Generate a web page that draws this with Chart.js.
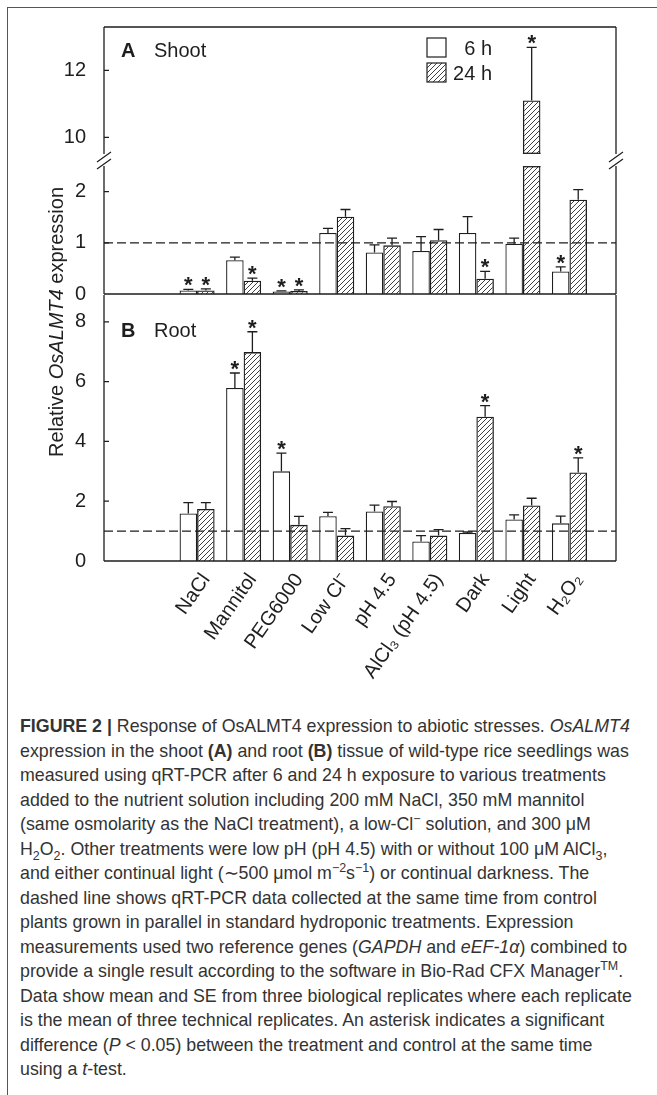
<!DOCTYPE html>
<html>
<head>
<meta charset="utf-8">
<script src="https://cdn.jsdelivr.net/npm/chart.js@4.4.1/dist/chart.umd.min.js"></script>
<style>
  body { margin: 0; background: #fff; width: 657px; height: 1095px; overflow: hidden; position: relative;
         font-family: "Liberation Sans", Arial, sans-serif; }
  canvas { position: absolute; left: 0; top: 0; }
  #frame { position: absolute; left: 7px; top: 7px; width: 700px; height: 1200px;
           border-left: 1.5px solid #555; border-top: 1.5px solid #555; }
  #ytitle { position: absolute; left: -94px; top: 310px; width: 300px; height: 24px; line-height: 24px;
            text-align: center; font-size: 20px; color: #222; transform: rotate(-90deg); white-space: nowrap; }
  #caption { position: absolute; left: 20px; top: 714px; font-size: 17.8px; line-height: 24.5px; color: #333; }
  #caption div { white-space: nowrap; }
  sub, sup { font-size: 70%; line-height: 0; }
</style>
</head>
<body>
<div id="frame"></div>
<canvas id="shootTop" width="657" height="700"></canvas>
<canvas id="shootBottom" width="657" height="700"></canvas>
<canvas id="root" width="657" height="700"></canvas>
<div id="ytitle">Relative <i>OsALMT4</i> expression</div>
<div id="caption">
  <div><b>FIGURE 2 |</b> Response of OsALMT4 expression to abiotic stresses. <i>OsALMT4</i></div>
  <div>expression in the shoot <b>(A)</b> and root <b>(B)</b> tissue of wild-type rice seedlings was</div>
  <div>measured using qRT-PCR after 6 and 24 h exposure to various treatments</div>
  <div>added to the nutrient solution including 200 mM NaCl, 350 mM mannitol</div>
  <div>(same osmolarity as the NaCl treatment), a low-Cl<sup>−</sup> solution, and 300 μM</div>
  <div>H<sub>2</sub>O<sub>2</sub>. Other treatments were low pH (pH 4.5) with or without 100 μM AlCl<sub>3</sub>,</div>
  <div>and either continual light (∼500 μmol m<sup>−2</sup>s<sup>−1</sup>) or continual darkness. The</div>
  <div>dashed line shows qRT-PCR data collected at the same time from control</div>
  <div>plants grown in parallel in standard hydroponic treatments. Expression</div>
  <div>measurements used two reference genes (<i>GAPDH</i> and <i>eEF-1α</i>) combined to</div>
  <div>provide a single result according to the software in Bio-Rad CFX Manager<sup>TM</sup>.</div>
  <div>Data show mean and SE from three biological replicates where each replicate</div>
  <div>is the mean of three technical replicates. An asterisk indicates a significant</div>
  <div>difference (<i>P</i> &lt; 0.05) between the treatment and control at the same time</div>
  <div>using a <i>t</i>-test.</div>
</div>
<script>
const treatments = ['NaCl', 'Mannitol', 'PEG6000', 'Low Cl⁻', 'pH 4.5', 'AlCl₃ (pH 4.5)', 'Dark', 'Light', 'H₂O₂'];

// shoot (panel A)
const shoot6h     = [0.07, 0.66, 0.05, 1.19, 0.81, 0.84, 1.19, 0.98, 0.44];
const shoot6hSE   = [0.02, 0.06, 0.01, 0.09, 0.15, 0.28, 0.32, 0.11, 0.09];
const shoot6hSig  = [1, 0, 1, 0, 0, 0, 0, 0, 1];
const shoot24h    = [0.07, 0.26, 0.06, 1.51, 0.95, 1.05, 0.30, 11.1, 1.84];
const shoot24hSE  = [0.03, 0.05, 0.02, 0.14, 0.14, 0.21, 0.14, 1.59, 0.20];
const shoot24hSig = [1, 1, 1, 0, 0, 0, 1, 1, 0];

// root (panel B)
const root6h     = [1.59, 5.79, 3.00, 1.50, 1.66, 0.65, 0.94, 1.39, 1.26];
const root6hSE   = [0.36, 0.50, 0.61, 0.13, 0.21, 0.20, 0.03, 0.15, 0.24];
const root6hSig  = [0, 1, 1, 0, 0, 0, 0, 0, 0];
const root24h    = [1.74, 6.99, 1.21, 0.85, 1.83, 0.85, 4.83, 1.86, 2.96];
const root24hSE  = [0.21, 0.68, 0.28, 0.23, 0.16, 0.20, 0.37, 0.24, 0.49];
const root24hSig = [0, 1, 0, 0, 0, 0, 1, 0, 1];

const controlLevel = 1;
const shootTopTicks = [10, 12];
const shootBottomTicks = [0, 1, 2];
const rootTicks = [0, 2, 4, 6, 8];

// two empty slots before the treatments and one after
const pad = arr => [null, null, ...arr, null];
const labels = pad(treatments).map(v => v || '');

const INK = '#1e1e1e';
const FONT = '"Liberation Sans", Arial, sans-serif';

function hatchPattern() {
  const c = document.createElement('canvas');
  c.width = 5; c.height = 5;
  const g = c.getContext('2d');
  g.strokeStyle = '#2a2a2a';
  g.lineWidth = 0.9;
  g.beginPath();
  g.moveTo(-1, 6); g.lineTo(6, -1);
  g.moveTo(-1, 1); g.lineTo(1, -1);
  g.moveTo(4, 6); g.lineTo(6, 4);
  g.stroke();
  return g.createPattern(c, 'repeat');
}
const hatch = hatchPattern();

const deco = {
  id: 'deco',
  afterDatasetsDraw(chart, args, o) {
    const { ctx, chartArea: a } = chart;
    const y = chart.scales.y;
    ctx.save();
    ctx.beginPath();
    ctx.rect(a.left, a.top, a.right - a.left, a.bottom - a.top);
    ctx.clip();
    ctx.strokeStyle = INK;
    ctx.fillStyle = INK;

    // clipped bar edges
    chart.data.datasets.forEach((ds, di) => {
      chart.getDatasetMeta(di).data.forEach((el, i) => {
        const v = ds.data[i];
        if (v == null) return;
        const { x, width } = el.getProps(['x', 'width'], true);
        ctx.lineWidth = 1.3;
        ctx.beginPath();
        if (v > y.max) { ctx.moveTo(x - width / 2, a.top + 0.7); ctx.lineTo(x + width / 2, a.top + 0.7); }
        if (y.min > 0 && v > y.min) { ctx.moveTo(x - width / 2, a.bottom - 0.7); ctx.lineTo(x + width / 2, a.bottom - 0.7); }
        ctx.stroke();
      });
    });

    // control level
    ctx.lineWidth = 1.2;
    ctx.setLineDash([9, 4]);
    const yc = y.getPixelForValue(controlLevel);
    ctx.beginPath(); ctx.moveTo(a.left, yc); ctx.lineTo(a.right, yc); ctx.stroke();
    ctx.setLineDash([]);

    // SE whiskers and asterisks (errors / sig are padded like the data)
    o.errors.forEach((se, di) => {
      const ds = chart.data.datasets[di];
      const sig = o.sig[di];
      chart.getDatasetMeta(di).data.forEach((el, i) => {
        const v = ds.data[i];
        if (v == null) return;
        const x = el.getProps(['x'], true).x;
        const y0 = y.getPixelForValue(v);
        const y1 = y.getPixelForValue(v + se[i]);
        ctx.lineWidth = 1.3;
        ctx.beginPath();
        ctx.moveTo(x, y0); ctx.lineTo(x, y1);
        ctx.moveTo(x - 5, y1); ctx.lineTo(x + 5, y1);
        ctx.stroke();
        if (sig[i]) {
          ctx.font = 'bold 22px ' + FONT;
          ctx.textAlign = 'center';
          ctx.textBaseline = 'alphabetic';
          ctx.fillText('*', x, y1 + 3);
        }
      });
    });
    ctx.restore();

    // frame
    ctx.save();
    ctx.strokeStyle = INK;
    ctx.lineWidth = 1.3;
    ctx.beginPath();
    const s = o.sides;
    if (s.top) { ctx.moveTo(a.left, a.top); ctx.lineTo(a.right, a.top); }
    if (s.bottom) { ctx.moveTo(a.left, a.bottom); ctx.lineTo(a.right, a.bottom); }
    if (s.left) { ctx.moveTo(a.left, a.top); ctx.lineTo(a.left, a.bottom); }
    if (s.right) { ctx.moveTo(a.right, a.top); ctx.lineTo(a.right, a.bottom); }
    // inward ticks
    y.ticks.forEach(t => {
      const py = y.getPixelForValue(t.value);
      ctx.moveTo(a.left, py); ctx.lineTo(a.left + 5, py);
    });
    ctx.stroke();
    // axis break marks
    if (o.breakAt) {
      const by = o.breakAt === 'bottom' ? a.bottom + 3 : a.top - 2;
      ctx.lineWidth = 1.2;
      ctx.beginPath();
      [a.left, a.right].forEach(bx => { ctx.moveTo(bx - 7, by + 5); ctx.lineTo(bx + 7, by - 5); });
      ctx.stroke();
    }
    // panel label
    if (o.panel) {
      ctx.fillStyle = INK;
      ctx.textAlign = 'left';
      ctx.textBaseline = 'alphabetic';
      ctx.font = 'bold 20px ' + FONT;
      ctx.fillText(o.panel[0], a.left + 17, a.top + o.panel[2]);
      ctx.font = '20px ' + FONT;
      ctx.fillText(o.panel[1], a.left + 50, a.top + o.panel[2]);
    }
    // legend
    if (o.legend) {
      const items = [['6 h', '#fff', 38], ['24 h', hatch, 63]];
      items.forEach(([txt, fill, ty]) => {
        ctx.fillStyle = fill;
        ctx.fillRect(427, ty, 19, 19);
        ctx.lineWidth = 1.2;
        ctx.strokeRect(427, ty, 19, 19);
        ctx.fillStyle = INK;
        ctx.font = '20px ' + FONT;
        ctx.textAlign = 'right';
        ctx.fillText(txt, 492, ty + 17);
      });
    }
    ctx.restore();
  }
};

function makeChart(id, cfg) {
  return new Chart(document.getElementById(id), {
    type: 'bar',
    data: {
      labels: labels,
      datasets: [
        { label: '6 h', data: pad(cfg.v6), backgroundColor: '#fff', borderColor: INK, borderWidth: 1.3, clip: 0 },
        { label: '24 h', data: pad(cfg.v24), backgroundColor: hatch, borderColor: INK, borderWidth: 1.3, clip: 0 }
      ]
    },
    options: {
      responsive: false,
      animation: false,
      datasets: { bar: { categoryPercentage: 0.753, barPercentage: 1.0 } },
      layout: { padding: cfg.padding },
      plugins: {
        legend: { display: false },
        tooltip: { enabled: false },
        deco: Object.assign({}, cfg.deco, {
          errors: [pad(cfg.se6), pad(cfg.se24)],
          sig: [pad(cfg.sig6), pad(cfg.sig24)]
        })
      },
      scales: {
        x: {
          type: 'category',
          offset: false,
          display: cfg.showX,
          grid: { display: false },
          border: { display: false },
          ticks: {
            autoSkip: false, minRotation: 55, maxRotation: 55, padding: 0, labelOffset: 9,
            color: INK, font: { family: FONT, size: 20 }
          },
          afterFit: s => { if (cfg.xHeight) s.height = cfg.xHeight; }
        },
        y: {
          min: cfg.min, max: cfg.max,
          grid: { display: false },
          border: { display: false },
          ticks: { padding: 10, color: INK, font: { family: FONT, size: 20 } },
          afterBuildTicks: s => { s.ticks = cfg.ticks.map(v => ({ value: v })); },
          afterFit: s => { s.width = 104; }
        }
      }
    },
    plugins: [deco]
  });
}

makeChart('shootTop', {
  v6: shoot6h, v24: shoot24h, se6: shoot6hSE, se24: shoot24hSE, sig6: shoot6hSig, sig24: shoot24hSig,
  min: 9.5, max: 13.3, ticks: shootTopTicks, showX: false,
  padding: { top: 27, right: 41, bottom: 700 - 154, left: 0 },
  deco: { sides: { top: true, left: true, right: true }, breakAt: 'bottom',
          panel: ['A', 'Shoot', 30], legend: true }
});

makeChart('shootBottom', {
  v6: shoot6h, v24: shoot24h, se6: shoot6hSE, se24: shoot24hSE, sig6: shoot6hSig, sig24: shoot24hSig,
  min: 0, max: 2.5, ticks: shootBottomTicks, showX: false,
  padding: { top: 166, right: 41, bottom: 700 - 294, left: 0 },
  deco: { sides: { bottom: true, left: true, right: true }, breakAt: 'top' }
});

makeChart('root', {
  v6: root6h, v24: root24h, se6: root6hSE, se24: root24hSE, sig6: root6hSig, sig24: root24hSig,
  min: 0, max: 8.9, ticks: rootTicks, showX: true, xHeight: 700 - 561,
  padding: { top: 295, right: 41, bottom: 0, left: 0 },
  deco: { sides: { bottom: true, left: true, right: true },
          panel: ['B', 'Root', 42] }
});
</script>
</body>
</html>
